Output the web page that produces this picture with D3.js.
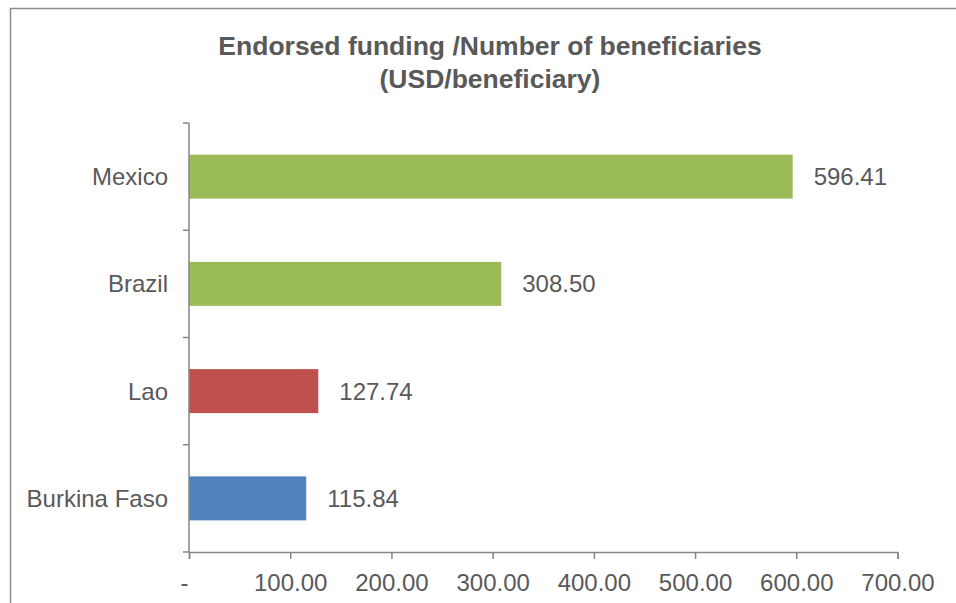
<!DOCTYPE html>
<html>
<head>
<meta charset="utf-8">
<script src="https://cdn.jsdelivr.net/npm/d3@7"></script>
<style>
  html, body { margin: 0; padding: 0; background: #fff; }
  svg { display: block; }
  text { font-family: "Liberation Sans", Arial, sans-serif; fill: #595959; }
</style>
</head>
<body>
<svg id="chart" width="956" height="603"></svg>
<script>
// Endorsed funding per beneficiary, by country (top to bottom)
const countries = ["Mexico", "Brazil", "Lao", "Burkina Faso"];
const usdPerBeneficiary = [596.41, 308.50, 127.74, 115.84];
const barColors = ["#9BBB59", "#9BBB59", "#C0504D", "#4F81BD"];
const xTicks = [0, 100, 200, 300, 400, 500, 600, 700];
const titleLines = ["Endorsed funding /Number of beneficiaries", "(USD/beneficiary)"];

const svg = d3.select("#chart");
const axisColor = "#868686";

// Chart frame
svg.append("rect")
  .attr("x", 10.5).attr("y", 8.5)
  .attr("width", 960).attr("height", 620)
  .attr("fill", "none").attr("stroke", "#8c8c8c").attr("stroke-width", 1.5);

const plot = { left: 189, right: 897.5, top: 123, bottom: 552 };

const x = d3.scaleLinear().domain([0, 700]).range([plot.left, plot.right]);
const y = d3.scaleBand().domain(countries).range([plot.top, plot.bottom])
  .paddingInner(0.59).paddingOuter(0.295);

// Title
svg.append("text")
  .attr("x", 490).attr("text-anchor", "middle")
  .style("font-weight", "bold").style("font-size", "26.5px")
  .selectAll("tspan").data(titleLines).join("tspan")
  .attr("x", 490).attr("y", (d, i) => 55 + i * 33)
  .text(d => d);

// Bars
const rows = countries.map((c, i) => ({ c, v: usdPerBeneficiary[i], col: barColors[i] }));
svg.append("g").selectAll("rect").data(rows).join("rect")
  .attr("x", x(0))
  .attr("y", d => y(d.c))
  .attr("width", d => x(d.v) - x(0))
  .attr("height", y.bandwidth())
  .attr("fill", d => d.col);

// Value labels
svg.append("g").selectAll("text").data(rows).join("text")
  .attr("x", d => x(d.v) + 21)
  .attr("y", d => y(d.c) + y.bandwidth() / 2)
  .attr("dy", "0.35em")
  .style("font-size", "24px")
  .text(d => d.v.toFixed(2));

// Y axis: category labels with ticks at band boundaries
const yAxisG = svg.append("g");
yAxisG.append("line")
  .attr("x1", plot.left).attr("x2", plot.left)
  .attr("y1", plot.top).attr("y2", plot.bottom)
  .attr("stroke", axisColor).attr("stroke-width", 1.5);
const bounds = d3.range(countries.length + 1).map(i => plot.top + i * y.step());
yAxisG.selectAll("line.tk").data(bounds).join("line").attr("class", "tk")
  .attr("x1", plot.left - 6).attr("x2", plot.left)
  .attr("y1", d => d).attr("y2", d => d)
  .attr("stroke", axisColor).attr("stroke-width", 1.5);
yAxisG.selectAll("text").data(countries).join("text")
  .attr("x", plot.left - 21)
  .attr("y", d => y(d) + y.bandwidth() / 2)
  .attr("dy", "0.35em")
  .attr("text-anchor", "end")
  .style("font-size", "24px")
  .text(d => d);

// X axis
const xAxis = d3.axisBottom(x).tickValues(xTicks).tickSizeOuter(0).tickSize(7)
  .tickFormat(d => d === 0 ? "-" : d3.format(".2f")(d));
const xg = svg.append("g").attr("transform", `translate(0,${plot.bottom})`).call(xAxis);
xg.select(".domain").attr("stroke", axisColor).attr("stroke-width", 1.5);
xg.selectAll(".tick line").attr("stroke", axisColor).attr("stroke-width", 1.5);
xg.selectAll(".tick text")
  .attr("y", 22).attr("dy", "0.71em")
  .style("font-size", "24px")
  .style("font-family", "'Liberation Sans', Arial, sans-serif")
  .attr("fill", "#595959");
xg.selectAll(".tick").filter(d => d === 0).select("text").attr("dx", "-5");
</script>
</body>
</html>
